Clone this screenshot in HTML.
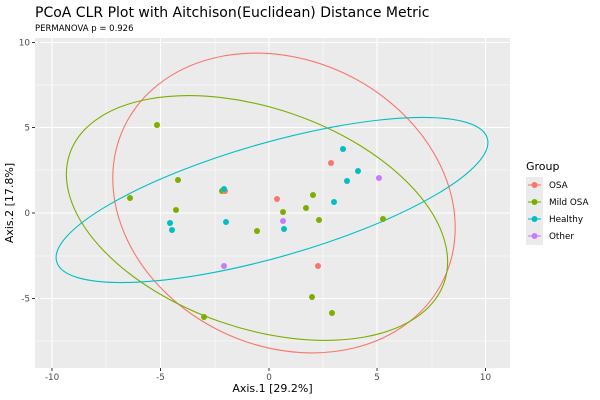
<!DOCTYPE html>
<html><head><meta charset="utf-8"><style>
body{margin:0;background:#fff}
svg{display:block;font-family:"DejaVu Sans","Liberation Sans",sans-serif}
</style></head><body>
<svg width="600" height="400" xmlns="http://www.w3.org/2000/svg">
<rect width="600" height="400" fill="#fff"/>
<text x="35" y="17" font-size="14" fill="#000">PCoA CLR Plot with Aitchison(Euclidean) Distance Metric</text>
<text x="35" y="31" font-size="8.5" fill="#000">PERMANOVA p = 0.926</text>
<rect x="35" y="38" width="475" height="330" fill="#ebebeb"/>
<g stroke="#fff" stroke-width="0.5">
<line x1="35" x2="510" y1="85" y2="85"/><line x1="35" x2="510" y1="170" y2="170"/>
<line x1="35" x2="510" y1="256" y2="256"/><line x1="35" x2="510" y1="341" y2="341"/>
<line y1="38" y2="368" x1="106" x2="106"/><line y1="38" y2="368" x1="215" x2="215"/>
<line y1="38" y2="368" x1="323" x2="323"/><line y1="38" y2="368" x1="432" x2="432"/>
</g>
<g stroke="#fff" stroke-width="1.1">
<line x1="35" x2="510" y1="42.5" y2="42.5"/><line x1="35" x2="510" y1="127.5" y2="127.5"/>
<line x1="35" x2="510" y1="213" y2="213"/><line x1="35" x2="510" y1="298.5" y2="298.5"/>
<line y1="38" y2="368" x1="52" x2="52"/><line y1="38" y2="368" x1="160.5" x2="160.5"/>
<line y1="38" y2="368" x1="269" x2="269"/><line y1="38" y2="368" x1="377" x2="377"/>
<line y1="38" y2="368" x1="485.5" x2="485.5"/>
</g>
<g fill="none" stroke-width="1.1">
<ellipse cx="284" cy="203" rx="177" ry="143" transform="rotate(25.5 284 203)" stroke="#F8766D"/>
<ellipse cx="257" cy="218" rx="198" ry="110" transform="rotate(19 257 218)" stroke="#7CAE00"/>
<ellipse cx="272" cy="200" rx="224" ry="57" transform="rotate(-16 272 200)" stroke="#00BFC4"/>
</g>
<g fill="#7CAE00">
<circle cx="157" cy="125" r="3"/><circle cx="178" cy="180" r="3"/><circle cx="130" cy="198" r="3"/>
<circle cx="176" cy="210" r="3"/><circle cx="222" cy="191" r="3"/><circle cx="257" cy="231" r="3"/>
<circle cx="283" cy="212" r="3"/><circle cx="306" cy="208" r="3"/><circle cx="313" cy="195" r="3"/>
<circle cx="319" cy="220" r="3"/><circle cx="383" cy="219" r="3"/><circle cx="312" cy="297" r="3"/>
<circle cx="332" cy="313" r="3"/><circle cx="204" cy="317" r="3"/>
</g>
<g fill="#F8766D">
<circle cx="331" cy="163" r="3"/><circle cx="277" cy="199" r="3"/><circle cx="225" cy="191" r="3"/><circle cx="318" cy="266" r="3"/>
</g>
<g fill="#00BFC4">
<circle cx="343" cy="149" r="3"/><circle cx="358" cy="171" r="3"/><circle cx="347" cy="181" r="3"/>
<circle cx="334" cy="202" r="3"/><circle cx="224" cy="189" r="3"/><circle cx="226" cy="222" r="3"/>
<circle cx="170" cy="223" r="3"/><circle cx="172" cy="230" r="3"/><circle cx="284" cy="229" r="3"/>
</g>
<g fill="#C77CFF">
<circle cx="379" cy="178" r="3"/><circle cx="283" cy="221" r="3"/><circle cx="224" cy="266" r="3"/>
</g>
<g stroke="#333" stroke-width="1">
<line x1="32" x2="35" y1="42.5" y2="42.5"/><line x1="32" x2="35" y1="127.5" y2="127.5"/>
<line x1="32" x2="35" y1="213" y2="213"/><line x1="32" x2="35" y1="298.5" y2="298.5"/>
<line y1="368" y2="371" x1="52" x2="52"/><line y1="368" y2="371" x1="160.5" x2="160.5"/>
<line y1="368" y2="371" x1="269" x2="269"/><line y1="368" y2="371" x1="377" x2="377"/>
<line y1="368" y2="371" x1="485.5" x2="485.5"/>
</g>
<g font-size="8.8" fill="#4d4d4d" text-anchor="end">
<text x="30" y="45.5">10</text><text x="30" y="130.5">5</text><text x="30" y="216">0</text><text x="30" y="301.5">-5</text>
</g>
<g font-size="8.8" fill="#4d4d4d" text-anchor="middle">
<text x="52" y="380">-10</text><text x="160.5" y="380">-5</text><text x="269" y="380">0</text><text x="377" y="380">5</text><text x="485.5" y="380">10</text>
</g>
<text x="272.5" y="392" font-size="11" text-anchor="middle" fill="#000">Axis.1   [29.2%]</text>
<text transform="translate(13 203) rotate(-90)" font-size="11" text-anchor="middle" fill="#000">Axis.2   [17.8%]</text>
<text x="526" y="170" font-size="11" fill="#000">Group</text>
<rect x="526" y="177" width="17" height="68" fill="#ebebeb"/>
<g stroke-width="1.1">
<line x1="528" x2="541" y1="185" y2="185" stroke="#F8766D"/><circle cx="534.5" cy="185" r="3" fill="#F8766D"/>
<line x1="528" x2="541" y1="202" y2="202" stroke="#7CAE00"/><circle cx="534.5" cy="202" r="3" fill="#7CAE00"/>
<line x1="528" x2="541" y1="219" y2="219" stroke="#00BFC4"/><circle cx="534.5" cy="219" r="3" fill="#00BFC4"/>
<line x1="528" x2="541" y1="236" y2="236" stroke="#C77CFF"/><circle cx="534.5" cy="236" r="3" fill="#C77CFF"/>
</g>
<g font-size="8.8" fill="#000">
<text x="549" y="188">OSA</text><text x="549" y="205">Mild OSA</text><text x="549" y="222">Healthy</text><text x="549" y="239">Other</text>
</g>
</svg>
</body></html>
